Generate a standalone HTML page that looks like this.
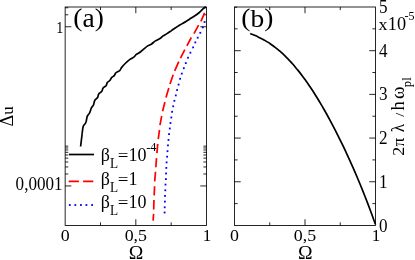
<!DOCTYPE html>
<html><head><meta charset="utf-8"><title>plot</title>
<style>
html,body{margin:0;padding:0;background:#fff;}
svg{display:block;will-change:transform;font-family:"Liberation Serif",serif;}
text{fill:#000;}
</style></head><body>
<svg width="415" height="260" viewBox="0 0 415 260">
<rect x="0" y="0" width="415" height="260" fill="#fff"/>
<rect x="65.15" y="7.00" width="141.35" height="218.45" fill="none" stroke="#000" stroke-width="0.85"/>
<rect x="234.50" y="7.00" width="141.00" height="218.45" fill="none" stroke="#000" stroke-width="0.85"/>
<line x1="100.49" y1="225.45" x2="100.49" y2="222.35" stroke="#000" stroke-width="0.85" />
<line x1="100.49" y1="7.00" x2="100.49" y2="10.10" stroke="#000" stroke-width="0.85" />
<line x1="135.82" y1="225.45" x2="135.82" y2="219.25" stroke="#000" stroke-width="0.85" />
<line x1="135.82" y1="7.00" x2="135.82" y2="13.20" stroke="#000" stroke-width="0.85" />
<line x1="171.16" y1="225.45" x2="171.16" y2="222.35" stroke="#000" stroke-width="0.85" />
<line x1="171.16" y1="7.00" x2="171.16" y2="10.10" stroke="#000" stroke-width="0.85" />
<line x1="269.75" y1="225.45" x2="269.75" y2="222.35" stroke="#000" stroke-width="0.85" />
<line x1="269.75" y1="7.00" x2="269.75" y2="10.10" stroke="#000" stroke-width="0.85" />
<line x1="305.00" y1="225.45" x2="305.00" y2="219.25" stroke="#000" stroke-width="0.85" />
<line x1="305.00" y1="7.00" x2="305.00" y2="13.20" stroke="#000" stroke-width="0.85" />
<line x1="340.25" y1="225.45" x2="340.25" y2="222.35" stroke="#000" stroke-width="0.85" />
<line x1="340.25" y1="7.00" x2="340.25" y2="10.10" stroke="#000" stroke-width="0.85" />
<line x1="65.15" y1="185.95" x2="71.35" y2="185.95" stroke="#000" stroke-width="0.85" />
<line x1="206.50" y1="185.95" x2="200.30" y2="185.95" stroke="#000" stroke-width="0.85" />
<line x1="65.15" y1="173.97" x2="68.25" y2="173.97" stroke="#000" stroke-width="0.85" />
<line x1="206.50" y1="173.97" x2="203.40" y2="173.97" stroke="#000" stroke-width="0.85" />
<line x1="65.15" y1="166.96" x2="68.25" y2="166.96" stroke="#000" stroke-width="0.85" />
<line x1="206.50" y1="166.96" x2="203.40" y2="166.96" stroke="#000" stroke-width="0.85" />
<line x1="65.15" y1="161.99" x2="68.25" y2="161.99" stroke="#000" stroke-width="0.85" />
<line x1="206.50" y1="161.99" x2="203.40" y2="161.99" stroke="#000" stroke-width="0.85" />
<line x1="65.15" y1="158.13" x2="68.25" y2="158.13" stroke="#000" stroke-width="0.85" />
<line x1="206.50" y1="158.13" x2="203.40" y2="158.13" stroke="#000" stroke-width="0.85" />
<line x1="65.15" y1="154.98" x2="68.25" y2="154.98" stroke="#000" stroke-width="0.85" />
<line x1="206.50" y1="154.98" x2="203.40" y2="154.98" stroke="#000" stroke-width="0.85" />
<line x1="65.15" y1="152.32" x2="68.25" y2="152.32" stroke="#000" stroke-width="0.85" />
<line x1="206.50" y1="152.32" x2="203.40" y2="152.32" stroke="#000" stroke-width="0.85" />
<line x1="65.15" y1="150.01" x2="68.25" y2="150.01" stroke="#000" stroke-width="0.85" />
<line x1="206.50" y1="150.01" x2="203.40" y2="150.01" stroke="#000" stroke-width="0.85" />
<line x1="65.15" y1="147.97" x2="68.25" y2="147.97" stroke="#000" stroke-width="0.85" />
<line x1="206.50" y1="147.97" x2="203.40" y2="147.97" stroke="#000" stroke-width="0.85" />
<line x1="65.15" y1="146.15" x2="68.25" y2="146.15" stroke="#000" stroke-width="0.85" />
<line x1="206.50" y1="146.15" x2="203.40" y2="146.15" stroke="#000" stroke-width="0.85" />
<line x1="65.15" y1="26.75" x2="71.35" y2="26.75" stroke="#000" stroke-width="0.85" />
<line x1="206.50" y1="26.75" x2="200.30" y2="26.75" stroke="#000" stroke-width="0.85" />
<line x1="65.15" y1="14.77" x2="68.25" y2="14.77" stroke="#000" stroke-width="0.85" />
<line x1="206.50" y1="14.77" x2="203.40" y2="14.77" stroke="#000" stroke-width="0.85" />
<line x1="65.15" y1="7.76" x2="68.25" y2="7.76" stroke="#000" stroke-width="0.85" />
<line x1="206.50" y1="7.76" x2="203.40" y2="7.76" stroke="#000" stroke-width="0.85" />
<line x1="234.50" y1="203.60" x2="237.60" y2="203.60" stroke="#000" stroke-width="0.85" />
<line x1="375.50" y1="203.60" x2="372.40" y2="203.60" stroke="#000" stroke-width="0.85" />
<line x1="234.50" y1="181.76" x2="240.70" y2="181.76" stroke="#000" stroke-width="0.85" />
<line x1="375.50" y1="181.76" x2="369.30" y2="181.76" stroke="#000" stroke-width="0.85" />
<line x1="234.50" y1="159.91" x2="237.60" y2="159.91" stroke="#000" stroke-width="0.85" />
<line x1="375.50" y1="159.91" x2="372.40" y2="159.91" stroke="#000" stroke-width="0.85" />
<line x1="234.50" y1="138.07" x2="240.70" y2="138.07" stroke="#000" stroke-width="0.85" />
<line x1="375.50" y1="138.07" x2="369.30" y2="138.07" stroke="#000" stroke-width="0.85" />
<line x1="234.50" y1="116.22" x2="237.60" y2="116.22" stroke="#000" stroke-width="0.85" />
<line x1="375.50" y1="116.22" x2="372.40" y2="116.22" stroke="#000" stroke-width="0.85" />
<line x1="234.50" y1="94.38" x2="240.70" y2="94.38" stroke="#000" stroke-width="0.85" />
<line x1="375.50" y1="94.38" x2="369.30" y2="94.38" stroke="#000" stroke-width="0.85" />
<line x1="234.50" y1="72.53" x2="237.60" y2="72.53" stroke="#000" stroke-width="0.85" />
<line x1="375.50" y1="72.53" x2="372.40" y2="72.53" stroke="#000" stroke-width="0.85" />
<line x1="234.50" y1="50.69" x2="240.70" y2="50.69" stroke="#000" stroke-width="0.85" />
<line x1="375.50" y1="50.69" x2="369.30" y2="50.69" stroke="#000" stroke-width="0.85" />
<line x1="234.50" y1="28.84" x2="237.60" y2="28.84" stroke="#000" stroke-width="0.85" />
<line x1="375.50" y1="28.84" x2="372.40" y2="28.84" stroke="#000" stroke-width="0.85" />
<line x1="234.50" y1="7.20" x2="237.10" y2="7.20" stroke="#000" stroke-width="0.85" />
<path d="M80.60,146.50 C80.83,144.58 81.73,137.23 82.00,135.00 C82.27,132.77 82.00,134.51 82.20,133.10 C82.40,131.69 82.65,128.22 83.20,126.55 C83.75,124.88 84.97,124.11 85.50,123.10 C86.03,122.09 86.11,121.63 86.40,120.50 C86.69,119.37 86.72,117.58 87.25,116.30 C87.78,115.02 88.92,114.15 89.60,112.80 C90.27,111.45 90.67,109.48 91.30,108.20 C91.93,106.92 92.95,105.97 93.40,105.10 C93.85,104.23 93.75,103.82 94.00,103.00 C94.25,102.18 94.30,101.12 94.90,100.20 C95.50,99.28 96.97,98.53 97.60,97.50 C98.23,96.47 98.00,95.03 98.70,94.00 C99.40,92.97 101.07,92.32 101.80,91.30 C102.53,90.28 102.38,88.83 103.10,87.90 C103.82,86.97 105.40,86.58 106.10,85.70 C106.80,84.82 106.65,83.50 107.30,82.60 C107.95,81.70 109.28,81.13 110.00,80.30 C110.72,79.47 110.88,78.38 111.60,77.60 C112.32,76.82 113.60,76.38 114.30,75.60 C115.00,74.82 114.90,73.73 115.80,72.90 C116.70,72.07 118.72,71.52 119.70,70.60 C120.68,69.68 120.70,68.67 121.70,67.40 C122.70,66.13 124.38,64.30 125.70,63.00 C127.02,61.70 128.18,60.62 129.60,59.60 C131.02,58.58 133.12,57.74 134.20,56.90 C135.28,56.06 135.13,55.32 136.10,54.55 C137.07,53.78 139.03,52.94 140.00,52.30 C140.97,51.66 141.23,51.27 141.90,50.70 C142.57,50.13 143.03,49.70 144.00,48.90 C144.97,48.10 146.43,46.72 147.70,45.90 C148.97,45.08 150.32,44.78 151.60,43.95 C152.88,43.12 154.00,41.80 155.40,40.90 C156.80,40.00 158.72,39.39 160.00,38.55 C161.28,37.71 161.93,36.67 163.10,35.85 C164.27,35.03 165.60,34.48 167.00,33.60 C168.40,32.73 169.43,32.00 171.50,30.60 C173.57,29.20 177.05,26.68 179.40,25.20 C181.75,23.72 183.62,22.90 185.60,21.70 C187.58,20.50 189.38,19.23 191.30,18.00 C193.22,16.77 195.55,15.43 197.10,14.30 C198.65,13.18 199.63,12.15 200.60,11.25 C201.57,10.35 202.22,9.54 202.90,8.90 C203.58,8.26 204.18,7.68 204.70,7.40 C205.22,7.12 205.78,7.23 206.00,7.20" fill="none" stroke="#000" stroke-width="1.7"/>
<path d="M204.60,12.80L200.90,21.30 M198.60,25.15L194.00,33.60 M191.30,37.50L186.90,45.90 M184.80,49.60L180.50,58.20 M178.80,61.60L174.70,70.90 M173.20,74.70L170.00,84.00 M168.80,88.10L166.00,97.40 M164.90,102.00L162.60,111.30 M161.70,116.00L159.95,125.10 M159.50,129.90L158.25,139.10 M157.75,144.00L156.90,153.10 M156.50,158.10L155.85,167.30 M155.50,171.70L154.70,181.35 M154.60,186.20L154.15,195.40 M153.95,200.00L153.70,209.55 M153.60,213.90L153.10,220.60" fill="none" stroke="#f00" stroke-width="1.7"/>
<rect x="203.70" y="21.10" width="1.8" height="1.8" fill="#00f"/>
<rect x="201.90" y="26.50" width="1.8" height="1.8" fill="#00f"/>
<rect x="199.40" y="31.90" width="1.8" height="1.8" fill="#00f"/>
<rect x="196.80" y="36.80" width="1.8" height="1.8" fill="#00f"/>
<rect x="194.40" y="41.50" width="1.8" height="1.8" fill="#00f"/>
<rect x="192.20" y="46.50" width="1.8" height="1.8" fill="#00f"/>
<rect x="189.50" y="51.80" width="1.8" height="1.8" fill="#00f"/>
<rect x="187.10" y="56.80" width="1.8" height="1.8" fill="#00f"/>
<rect x="184.90" y="62.20" width="1.8" height="1.8" fill="#00f"/>
<rect x="182.90" y="67.30" width="1.8" height="1.8" fill="#00f"/>
<rect x="180.90" y="72.70" width="1.8" height="1.8" fill="#00f"/>
<rect x="179.20" y="77.90" width="1.8" height="1.8" fill="#00f"/>
<rect x="177.70" y="83.70" width="1.8" height="1.8" fill="#00f"/>
<rect x="176.20" y="89.10" width="1.8" height="1.8" fill="#00f"/>
<rect x="174.90" y="94.50" width="1.8" height="1.8" fill="#00f"/>
<rect x="173.50" y="99.90" width="1.8" height="1.8" fill="#00f"/>
<rect x="172.30" y="105.40" width="1.8" height="1.8" fill="#00f"/>
<rect x="171.20" y="110.90" width="1.8" height="1.8" fill="#00f"/>
<rect x="170.40" y="116.60" width="1.8" height="1.8" fill="#00f"/>
<rect x="169.60" y="122.10" width="1.8" height="1.8" fill="#00f"/>
<rect x="168.90" y="127.60" width="1.8" height="1.8" fill="#00f"/>
<rect x="168.15" y="133.20" width="1.8" height="1.8" fill="#00f"/>
<rect x="167.60" y="139.00" width="1.8" height="1.8" fill="#00f"/>
<rect x="167.05" y="144.50" width="1.8" height="1.8" fill="#00f"/>
<rect x="166.60" y="150.30" width="1.8" height="1.8" fill="#00f"/>
<rect x="166.20" y="155.80" width="1.8" height="1.8" fill="#00f"/>
<rect x="165.70" y="161.50" width="1.8" height="1.8" fill="#00f"/>
<rect x="165.40" y="167.00" width="1.8" height="1.8" fill="#00f"/>
<rect x="165.15" y="172.60" width="1.8" height="1.8" fill="#00f"/>
<rect x="165.00" y="178.20" width="1.8" height="1.8" fill="#00f"/>
<rect x="164.60" y="183.70" width="1.8" height="1.8" fill="#00f"/>
<rect x="164.40" y="189.40" width="1.8" height="1.8" fill="#00f"/>
<rect x="164.10" y="195.00" width="1.8" height="1.8" fill="#00f"/>
<rect x="164.00" y="200.70" width="1.8" height="1.8" fill="#00f"/>
<rect x="163.80" y="206.40" width="1.8" height="1.8" fill="#00f"/>
<rect x="163.70" y="211.60" width="1.8" height="1.8" fill="#00f"/>
<path d="M250.20,33.59 C250.62,33.75 251.87,34.22 252.70,34.55 C253.53,34.88 254.37,35.23 255.20,35.58 C256.03,35.94 256.87,36.31 257.70,36.70 C258.53,37.09 259.37,37.49 260.20,37.90 C261.03,38.32 261.87,38.75 262.70,39.20 C263.53,39.65 264.37,40.12 265.20,40.61 C266.03,41.09 266.87,41.60 267.70,42.12 C268.53,42.64 269.37,43.18 270.20,43.75 C271.03,44.31 271.87,44.89 272.70,45.49 C273.53,46.09 274.37,46.72 275.20,47.36 C276.03,48.00 276.87,48.67 277.70,49.35 C278.53,50.04 279.37,50.74 280.20,51.47 C281.03,52.20 281.87,52.95 282.70,53.72 C283.53,54.49 284.37,55.29 285.20,56.10 C286.03,56.92 286.87,57.75 287.70,58.61 C288.53,59.47 289.37,60.35 290.20,61.25 C291.03,62.16 291.87,63.08 292.70,64.03 C293.53,64.97 294.37,65.94 295.20,66.93 C296.03,67.92 296.87,68.93 297.70,69.96 C298.53,71.00 299.37,72.05 300.20,73.13 C301.03,74.20 301.87,75.30 302.70,76.42 C303.53,77.53 304.37,78.67 305.20,79.83 C306.03,80.99 306.87,82.17 307.70,83.37 C308.53,84.58 309.37,85.80 310.20,87.04 C311.03,88.28 311.87,89.54 312.70,90.82 C313.53,92.11 314.37,93.41 315.20,94.73 C316.03,96.05 316.87,97.39 317.70,98.75 C318.53,100.11 319.37,101.49 320.20,102.89 C321.03,104.29 321.87,105.71 322.70,107.14 C323.53,108.58 324.37,110.03 325.20,111.51 C326.03,112.98 326.87,114.47 327.70,115.99 C328.53,117.50 329.37,119.03 330.20,120.58 C331.03,122.12 331.87,123.69 332.70,125.28 C333.53,126.86 334.37,128.46 335.20,130.08 C336.03,131.71 336.87,133.35 337.70,135.01 C338.53,136.66 339.37,138.34 340.20,140.04 C341.03,141.73 341.87,143.45 342.70,145.18 C343.53,146.91 344.37,148.66 345.20,150.44 C346.03,152.21 346.87,154.00 347.70,155.81 C348.53,157.62 349.37,159.45 350.20,161.30 C351.03,163.15 351.87,165.02 352.70,166.91 C353.53,168.80 354.37,170.71 355.20,172.65 C356.03,174.58 356.87,176.54 357.70,178.52 C358.53,180.49 359.37,182.49 360.20,184.52 C361.03,186.54 361.87,188.59 362.70,190.66 C363.53,192.74 364.37,194.84 365.20,196.96 C366.03,199.08 366.87,201.23 367.70,203.41 C368.53,205.59 369.37,207.80 370.20,210.03 C371.03,212.27 371.87,214.53 372.70,216.83 C373.53,219.12 374.77,222.60 375.20,223.81 C375.63,225.02 375.28,224.05 375.30,224.09" fill="none" stroke="#000" stroke-width="1.7"/>
<line x1="68.90" y1="154.50" x2="94.00" y2="154.50" stroke="#000" stroke-width="1.7" />
<line x1="68.70" y1="181.40" x2="93.40" y2="181.40" stroke="#f00" stroke-width="1.7" stroke-dasharray="10.2 4.2"/>
<rect x="68.90" y="204.10" width="1.8" height="1.8" fill="#00f"/>
<rect x="74.40" y="204.10" width="1.8" height="1.8" fill="#00f"/>
<rect x="80.00" y="204.10" width="1.8" height="1.8" fill="#00f"/>
<rect x="85.50" y="204.10" width="1.8" height="1.8" fill="#00f"/>
<rect x="91.20" y="204.10" width="1.8" height="1.8" fill="#00f"/>
<text transform="translate(100.80,160.60) scale(1.0,1.06)" font-size="18" text-anchor="start" >β</text>
<text transform="translate(110.00,167.70) scale(1.0,1.09)" font-size="13.3" text-anchor="start" >L</text>
<text transform="translate(117.80,161.35) scale(1.05,0.9)" font-size="18" text-anchor="start" >=</text>
<text transform="translate(128.40,160.60) scale(1.0,1.06)" font-size="18" text-anchor="start" >10</text>
<text transform="translate(146.30,150.80) scale(1.0,1.06)" font-size="12.2" text-anchor="start" >-4</text>
<text transform="translate(100.80,184.70) scale(1.0,1.06)" font-size="18" text-anchor="start" >β</text>
<text transform="translate(110.00,191.80) scale(1.0,1.09)" font-size="13.3" text-anchor="start" >L</text>
<text transform="translate(117.80,185.45) scale(1.05,0.9)" font-size="18" text-anchor="start" >=</text>
<text transform="translate(128.40,184.70) scale(1.0,1.06)" font-size="18" text-anchor="start" >1</text>
<text transform="translate(100.80,207.60) scale(1.0,1.06)" font-size="18" text-anchor="start" >β</text>
<text transform="translate(110.00,214.70) scale(1.0,1.09)" font-size="13.3" text-anchor="start" >L</text>
<text transform="translate(117.80,208.35) scale(1.05,0.9)" font-size="18" text-anchor="start" >=</text>
<text transform="translate(128.40,207.60) scale(1.0,1.06)" font-size="18" text-anchor="start" >10</text>
<text transform="translate(73.30,26.40) scale(1.0,0.925)" font-size="27.5" text-anchor="start" >(</text>
<text transform="translate(82.46,27.00) scale(1.0,0.99)" font-size="27.5" text-anchor="start" >a</text>
<text transform="translate(94.67,26.40) scale(1.0,0.925)" font-size="27.5" text-anchor="start" >)</text>
<text transform="translate(241.30,26.40) scale(1.0,0.925)" font-size="27.5" text-anchor="start" >(</text>
<text transform="translate(250.46,27.00) scale(1.0,0.92)" font-size="27.5" text-anchor="start" >b</text>
<text transform="translate(264.21,26.40) scale(1.0,0.925)" font-size="27.5" text-anchor="start" >)</text>
<text transform="translate(63.30,32.80) scale(0.82,1.0)" font-size="17.1" text-anchor="end" >1</text>
<text transform="translate(62.60,190.20) scale(1.0,1.06)" font-size="17.1" text-anchor="end" >0,0001</text>
<text transform="translate(65.15,241.35) scale(1.045,1.035)" font-size="17.1" text-anchor="middle" >0</text>
<text transform="translate(135.82,241.35) scale(1.045,1.035)" font-size="17.1" text-anchor="middle" >0,5</text>
<text transform="translate(207.00,241.35) scale(1.0,1.03)" font-size="17.1" text-anchor="middle" >1</text>
<text transform="translate(136.12,258.90) scale(1.09,1.02)" font-size="18" text-anchor="middle" >Ω</text>
<text transform="translate(234.50,241.35) scale(1.045,1.035)" font-size="17.1" text-anchor="middle" >0</text>
<text transform="translate(305.00,241.35) scale(1.045,1.035)" font-size="17.1" text-anchor="middle" >0,5</text>
<text transform="translate(376.00,241.35) scale(1.0,1.03)" font-size="17.1" text-anchor="middle" >1</text>
<text transform="translate(305.30,258.90) scale(1.09,1.02)" font-size="18" text-anchor="middle" >Ω</text>
<text transform="translate(379.00,231.55) scale(1.0,1.06)" font-size="17.1" text-anchor="start" >0</text>
<text transform="translate(379.00,187.86) scale(1.0,1.06)" font-size="17.1" text-anchor="start" >1</text>
<text transform="translate(379.00,144.17) scale(1.0,1.06)" font-size="17.1" text-anchor="start" >2</text>
<text transform="translate(379.00,100.48) scale(1.0,1.06)" font-size="17.1" text-anchor="start" >3</text>
<text transform="translate(379.00,56.79) scale(1.0,1.06)" font-size="17.1" text-anchor="start" >4</text>
<text transform="translate(379.00,13.00) scale(1.0,1.04)" font-size="17.1" text-anchor="start" >5</text>
<text transform="translate(378.40,30.40) scale(1.05,1.0)" font-size="17.1" text-anchor="start" >x</text>
<text transform="translate(387.75,30.40) scale(1.07,1.06)" font-size="17.1" text-anchor="start" >10</text>
<text transform="translate(404.60,20.00) scale(1.0,1.06)" font-size="12.0" text-anchor="start" >-5</text>
<text transform="translate(13.10,126.50) rotate(-90) scale(1.0,1.0)" font-size="18">Δ</text>
<text transform="translate(13.10,114.80) rotate(-90) scale(1.0,1.0)" font-size="17">u</text>
<text transform="translate(403.75,155.80) rotate(-90) scale(1.0,0.98)" font-size="18">2</text>
<text transform="translate(403.75,146.40) rotate(-90) scale(0.97,0.95)" font-size="18">π</text>
<text transform="translate(403.75,132.20) rotate(-90) scale(0.95,1.02)" font-size="18">λ</text>
<text transform="translate(403.75,116.80) rotate(-90) scale(0.8,0.66)" font-size="18">/</text>
<text transform="translate(403.75,110.40) rotate(-90) scale(1.03,1.0)" font-size="18">h</text>
<text transform="translate(404.30,98.95) rotate(-90) scale(1.06,1.1)" font-size="18">ω</text>
<text transform="translate(410.80,87.20) rotate(-90) scale(1.0,1.0)" font-size="12.5">p</text>
<text transform="translate(410.80,80.65) rotate(-90) scale(1.0,1.0)" font-size="12.5">l</text>
</svg>
</body></html>
